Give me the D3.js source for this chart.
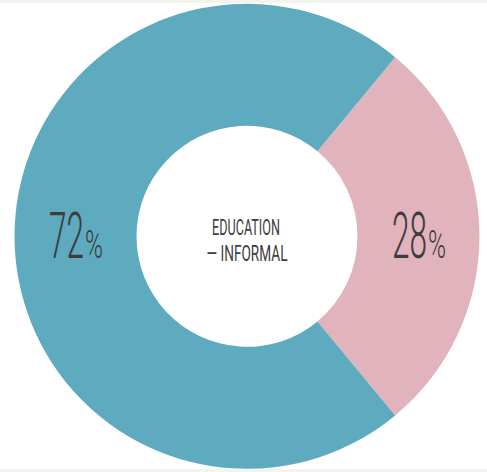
<!DOCTYPE html>
<html>
<head>
<meta charset="utf-8">
<script src="https://cdn.jsdelivr.net/npm/d3@7"></script>
<style>
  html, body { margin: 0; padding: 0; background: #f4f4ef; }
  svg { display: block; }
</style>
</head>
<body>
<div id="chart"></div>
<script>
const categories = ['Informal', 'Formal']
const shares = [28, 72]
const colors = ['#e1b4bd', '#5eabbf']
const centerLines = ['EDUCATION', '— INFORMAL']

const width = 487
const height = 472
const cx = 247
const cy = 236.3
const outerR = 232.5
const innerR = 110.5

const svg = d3
  .select('#chart')
  .append('svg')
  .attr('width', width)
  .attr('height', height)

// white chart area between the thin grey bands
svg.append('rect').attr('x', 0).attr('y', 3).attr('width', width).attr('height', 466).attr('fill', '#ffffff')

const root = svg.append('g').attr('transform', `translate(${cx},${cy})`)

// pink slice is centred at 3 o'clock
const startA = Math.PI / 2 - (shares[0] / 100) * Math.PI
const pie = d3
  .pie()
  .sort(null)
  .value((d) => d)
  .startAngle(startA)
  .endAngle(startA + Math.PI * 2)

const arc = d3.arc().innerRadius(innerR).outerRadius(outerR)
const arcs = pie(shares)

root
  .selectAll('path')
  .data(arcs)
  .join('path')
  .attr('d', arc)
  .attr('fill', (d, i) => colors[i])

const font = 'Roboto, "Liberation Sans", sans-serif'
const baseY = 257.5 - cy

// condensed look: squeeze each text horizontally to a target width
function squeeze(sel, x, y, w) {
  sel.each(function (d, i) {
    const len = this.getComputedTextLength() || 1
    const s = (typeof w === 'function' ? w(d, i) : w) / len
    const px = typeof x === 'function' ? x(d, i) : x
    const py = typeof y === 'function' ? y(d, i) : y
    d3.select(this).attr('transform', `translate(${px},${py}) scale(${s},1)`)
  })
}

// percentage labels at arc centroids: big digits + small percent sign
const lab = root.selectAll('g.pct').data(arcs).join('g').attr('class', 'pct')

const digits = lab
  .append('text')
  .attr('font-family', font)
  .attr('font-weight', 300)
  .attr('font-size', 65)
  .attr('fill', '#3d3d3d')
  .text((d) => d.data)
squeeze(digits, (d) => arc.centroid(d)[0] - 26.5, baseY, 35)

const pct = lab
  .append('text')
  .attr('font-family', font)
  .attr('font-weight', 300)
  .attr('font-size', 39)
  .attr('fill', '#3d3d3d')
  .text('%')
squeeze(pct, (d) => arc.centroid(d)[0] + 9.5, baseY, 18)

// centre title
const title = root
  .selectAll('text.title')
  .data(centerLines)
  .join('text')
  .attr('class', 'title')
  .attr('font-family', font)
  .attr('font-weight', 400)
  .attr('font-size', 22.5)
  .attr('fill', '#3d3d3d')
  .attr('text-anchor', 'middle')
  .text((d) => d)
squeeze(title, (d, i) => (i === 0 ? -1 : 0), (d, i) => (i === 0 ? 234.5 : 261) - cy, (d, i) => (i === 0 ? 68 : 81))
</script>
</body>
</html>
